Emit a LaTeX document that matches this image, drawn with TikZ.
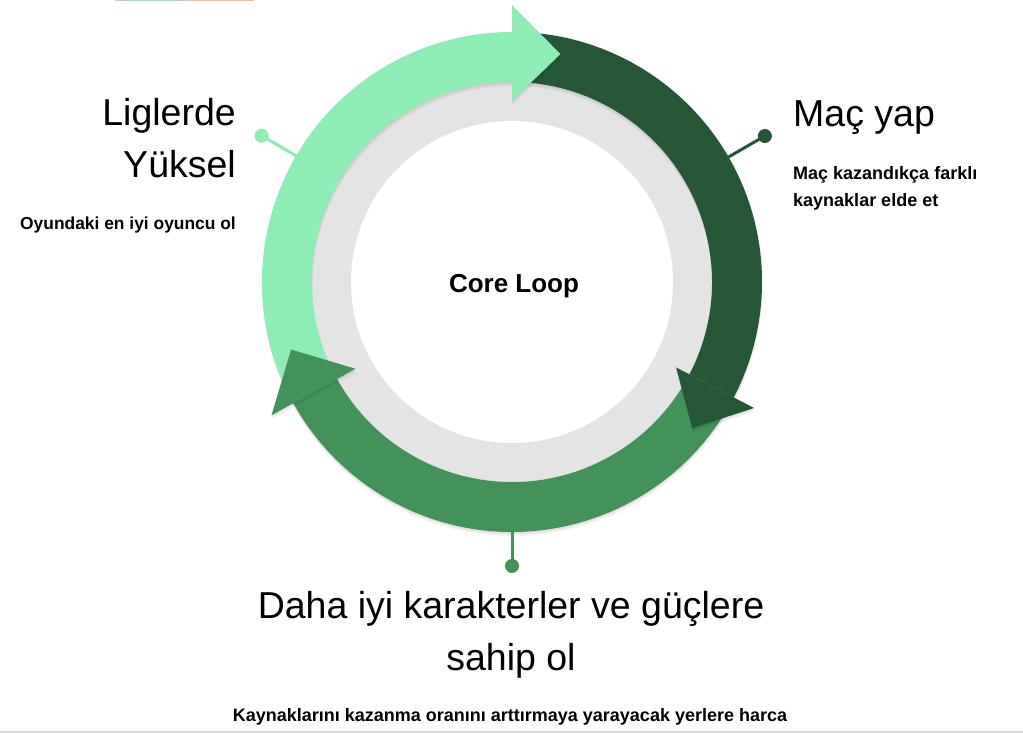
\documentclass[tikz,border=0pt]{standalone}
\usepackage{fontspec}
\setmainfont{Liberation Sans}
\definecolor{lightg}{HTML}{8EEDB5}
\definecolor{darkg}{HTML}{255737}
\definecolor{midg}{HTML}{43925A}
\definecolor{ringgray}{HTML}{E4E4E4}
\definecolor{topteal}{HTML}{A9D6CE}
\definecolor{toppeach}{HTML}{F6BE9F}
\definecolor{botgray}{HTML}{DCDCDC}
\newcommand{\bigfont}{\fontsize{37.5}{52}\selectfont}
\newcommand{\smallbold}{\fontsize{18}{27}\selectfont\bfseries}
\newcommand{\smallboldb}{\fontsize{17.4}{27}\selectfont\bfseries}
\newcommand{\corefont}{\fontsize{26}{30}\selectfont\bfseries}
\begin{document}
\begin{tikzpicture}[x=1pt,y=1pt,
  soft/.style={
    preaction={fill=black,fill opacity=0.05,transform canvas={yshift=-4pt,xshift=0.5pt}},
    preaction={fill=black,fill opacity=0.06,transform canvas={yshift=-2pt}}},
  dotnode/.style={circle,inner sep=0pt,minimum size=14pt},
  conn/.style={line width=3pt},
  bigtext/.style={font=\bigfont,inner sep=0pt,text=black},
  smalltext/.style={font=\smallbold,inner sep=0pt,text=black}]
\useasboundingbox (0,0) rectangle (1023,733);
\fill[white] (0,0) rectangle (1023,733);
% thin marks at the edges
\fill[topteal] (115,731.5) rectangle (185,733);
\fill[toppeach] (185,731.5) rectangle (254,733);
\fill[botgray] (0,0) rectangle (1023,2);

\begin{scope}[shift={(512,451)}]
  \fill[ringgray] (0,0) circle[radius=200];
  \fill[white] (0,0) circle[radius=161];
  % bands
  \fill[lightg,soft] (209:250) arc[start angle=209,end angle=90,radius=250]
      -- (90:200) arc[start angle=90,end angle=209,radius=200] -- cycle;
  \fill[darkg,soft] (90:250) arc[start angle=90,end angle=-27.5,radius=250]
      -- (-27.5:200) arc[start angle=-27.5,end angle=90,radius=200] -- cycle;
  \fill[midg,soft] (-27.5:250) arc[start angle=-27.5,end angle=-151,radius=250]
      -- (-151:200) arc[start angle=-151,end angle=-27.5,radius=200] -- cycle;
  % arrow heads
  \fill[lightg,soft] (90:277) -- (78:233) -- (90:181) -- cycle;
  \fill[darkg,soft] (-27.5:273) -- (-39:232) -- (-27.5:185) -- cycle;
  \fill[midg,soft] (-151:275) -- (-163:231) -- (-151:179) -- cycle;
  % connectors
  \coordinate (rL) at (149.7:249);
  \coordinate (rR) at (30:249);
  \coordinate (rB) at (-90:249);
  \node[dotnode,fill=lightg] (dL) at (149.7:290) {};
  \node[dotnode,fill=darkg] (dR) at (30:292) {};
  \node[dotnode,fill=midg] (dB) at (-90:284) {};
  \draw[conn,lightg] (rL) -- (dL.center);
  \draw[conn,darkg] (rR) -- (dR.center);
  \draw[conn,midg] (rB) -- (dB.center);
\end{scope}

% texts
\node[bigtext,anchor=north east,align=right] (tL) at (236,635) {Liglerde\\Yüksel};
\node[smalltext,font=\smallboldb,anchor=base east] (sL) at (236,503) {Oyundaki en iyi oyuncu ol};
\node[bigtext,anchor=base west] (tR) at (793,606) {Maç yap};
\node[smalltext,anchor=north west,align=left] (sR) at (793,567) {Maç kazandıkça farklı\\kaynaklar elde et};
\node[font=\corefont,inner sep=0pt,anchor=base] (core) at (514,440) {Core Loop};
\node[bigtext,anchor=north,align=center] (tB) at (511,142) {Daha iyi karakterler ve güçlere\\sahip ol};
\node[smalltext,anchor=base] (sB) at (510,11) {Kaynaklarını kazanma oranını arttırmaya yarayacak yerlere harca};
\end{tikzpicture}
\end{document}
